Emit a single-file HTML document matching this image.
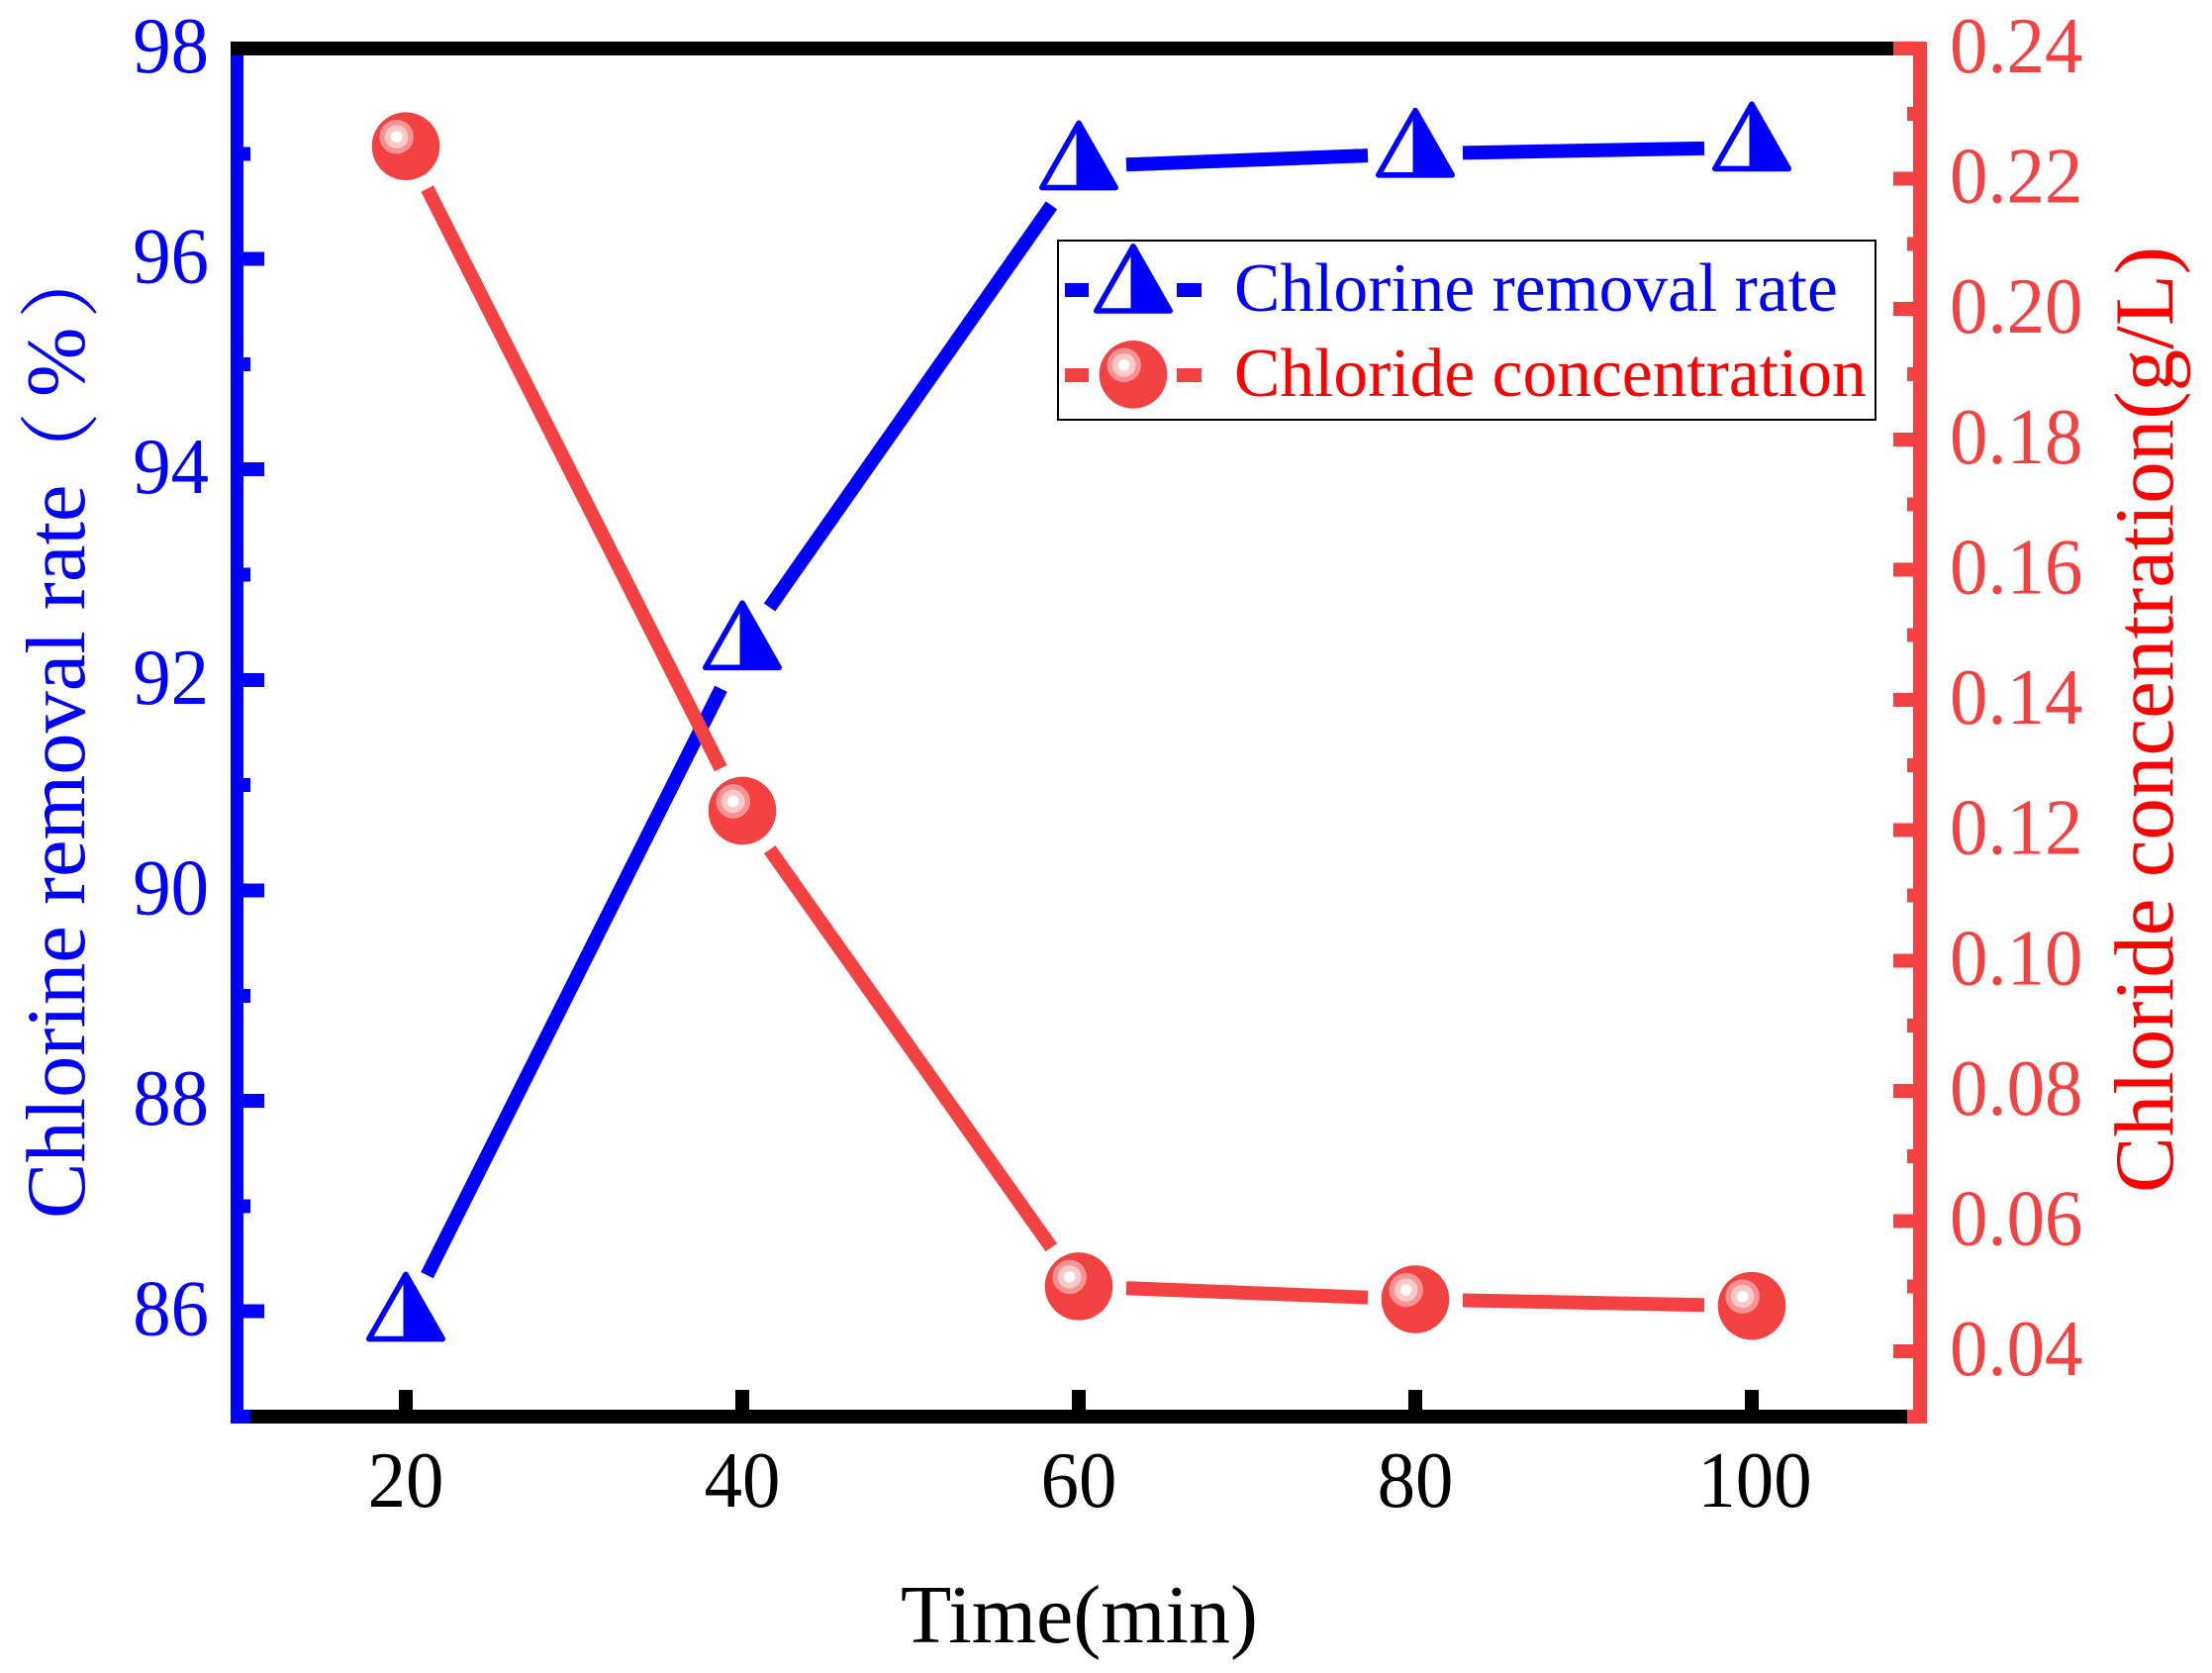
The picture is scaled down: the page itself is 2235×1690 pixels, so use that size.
<!DOCTYPE html>
<html lang="en">
<head>
<meta charset="utf-8">
<title>Chlorine removal rate and chloride concentration vs time</title>
<style>
html,body{margin:0;padding:0;background:#fff;width:2235px;height:1690px;overflow:hidden}
svg{display:block}
text{font-family:"Liberation Serif","Noto Serif CJK SC",serif}
</style>
</head>
<body>
<svg id="chart" xmlns="http://www.w3.org/2000/svg" width="2235" height="1690" viewBox="0 0 2235 1690"></svg>
<script>
const timeMin = [20, 40, 60, 80, 100];
const removalRate = [85.94, 92.32, 96.88, 97.0, 97.06];
const chlorideConc = [0.2250, 0.1230, 0.0500, 0.0480, 0.0470];
const xTickValues = [20, 40, 60, 80, 100];
const xTickLabels = ['20', '40', '60', '80', '100'];
const leftTickValues = [86, 88, 90, 92, 94, 96, 98];
const leftTickLabels = ['86', '88', '90', '92', '94', '96', '98'];
const leftMinorValues = [85, 87, 89, 91, 93, 95, 97];
const rightTickValues = [0.04, 0.06, 0.08, 0.10, 0.12, 0.14, 0.16, 0.18, 0.20, 0.22, 0.24];
const rightTickLabels = ['0.04', '0.06', '0.08', '0.10', '0.12', '0.14', '0.16', '0.18', '0.20', '0.22', '0.24'];
const rightMinorValues = [0.03, 0.05, 0.07, 0.09, 0.11, 0.13, 0.15, 0.17, 0.19, 0.21, 0.23];
const xDomain = [10, 110];
const leftDomain = [85, 98];
const rightDomain = [0.03, 0.24];

const BLUE = '#0000FF';
const RED = '#F44242';
const PURE_RED = '#FF0000';
const LABEL_SQUEEZE = 0.96;
const PLOT = {left: 240, right: 1940, top: 49, bottom: 1431};
const NS = 'http://www.w3.org/2000/svg';
const svg = document.getElementById('chart');

function xScale(v) { return PLOT.left + (v - xDomain[0]) / (xDomain[1] - xDomain[0]) * (PLOT.right - PLOT.left); }
function yLeft(v) { return PLOT.bottom - (v - leftDomain[0]) / (leftDomain[1] - leftDomain[0]) * (PLOT.bottom - PLOT.top); }
function yRight(v) { return PLOT.bottom - (v - rightDomain[0]) / (rightDomain[1] - rightDomain[0]) * (PLOT.bottom - PLOT.top); }

function make(tag, attrs, parent) {
  const n = document.createElementNS(NS, tag);
  for (const k in attrs) n.setAttribute(k, attrs[k]);
  (parent || svg).appendChild(n);
  return n;
}
function box(x1, y1, x2, y2, fill, parent) {
  return make('rect', {x: x1, y: y1, width: x2 - x1, height: y2 - y1, fill: fill, 'shape-rendering': 'crispEdges'}, parent);
}
function tickText(x, y, anchor, fill, parent) {
  return make('text', {transform: 'translate(' + x + ',' + y + ') scale(' + LABEL_SQUEEZE + ',1)', 'font-size': 80, fill: fill, 'text-anchor': anchor}, parent);
}
function triangleMarker(g, cx, cy) {
  make('polygon', {points: [cx, cy - 43.7, cx - 37.2, cy + 21.5, cx + 37.2, cy + 21.5].join(' '), fill: '#fff', stroke: BLUE, 'stroke-width': 5.6, 'stroke-linejoin': 'round'}, g);
  make('polygon', {points: [cx - 2.5, cy - 43.7, cx, cy - 43.7, cx + 37.2, cy + 21.5, cx - 2.5, cy + 21.5].join(' '), fill: BLUE}, g);
}
function sphereMarker(g, cx, cy) {
  make('circle', {cx: cx, cy: cy, r: 34.3, fill: RED}, g);
  make('circle', {cx: cx - 9.3, cy: cy - 9.5, r: 17.3, fill: '#F99393'}, g);
  make('circle', {cx: cx - 9.3, cy: cy - 9.5, r: 11.8, fill: '#FCC9C9'}, g);
  make('circle', {cx: cx - 9.3, cy: cy - 9.5, r: 5.8, fill: '#FFFDFD'}, g);
}
function gappedSegments(g, xs, ys, color, gap) {
  for (let i = 0; i < xs.length - 1; i++) {
    const x1 = xScale(xs[i]), y1 = ys[i], x2 = xScale(xs[i + 1]), y2 = ys[i + 1];
    const d = Math.hypot(x2 - x1, y2 - y1);
    const ux = (x2 - x1) / d, uy = (y2 - y1) / d;
    const seg = make('line', {x1: x1 + ux * gap, y1: y1 + uy * gap, x2: x2 - ux * gap, y2: y2 - uy * gap, stroke: color, 'stroke-width': 14}, g);
    
    
  }
}

/* bottom axis */
const xAxis = make('g', {});


box(233, 1424, 1934, 1438, '#000', xAxis);
xTickValues.forEach(function (v, i) {
  const tx = xScale(v);
  const tick = box(tx - 7, 1404, tx + 7, 1424, '#000', xAxis);
  
  
  const lab = tickText(tx + (xTickLabels[i].length > 2 ? 3 : 0), 1522, 'middle', '#000', xAxis);
  lab.textContent = xTickLabels[i];
  
  
});

/* left axis */
const leftAxis = make('g', {});


box(233, 42, 246, 1438, BLUE, leftAxis);
leftMinorValues.forEach(function (v) {
  const ty = yLeft(v);
  const tick = box(240, ty - 7, 253, ty + 7, BLUE, leftAxis);
  
  
});
leftTickValues.forEach(function (v, i) {
  const ty = yLeft(v);
  const tick = box(240, ty - 7, 267, ty + 7, BLUE, leftAxis);
  
  
  const lab = tickText(211, ty + 24, 'end', BLUE, leftAxis);
  lab.textContent = leftTickLabels[i];
  
  
});

/* top axis */
const topAxis = box(233, 42, 1913, 56, '#000');



/* right axis */
const rightAxis = make('g', {});


box(1933, 42, 1947, 1438, RED, rightAxis);
rightMinorValues.forEach(function (v) {
  const ty = yRight(v);
  const tick = box(1927, ty - 7, 1940, ty + 7, RED, rightAxis);
  
  
});
rightTickValues.forEach(function (v, i) {
  const ty = yRight(v);
  const tick = box(1913, ty - 7, 1940, ty + 7, RED, rightAxis);
  
  
  const lab = tickText(1970, ty + 24, 'start', RED, rightAxis);
  lab.textContent = rightTickLabels[i];
  
  
});

/* series */
const blueYs = removalRate.map(yLeft);
const redYs = chlorideConc.map(yRight);
const blueSeries = make('g', {});


gappedSegments(blueSeries, timeMin, blueYs, BLUE, 48);
timeMin.forEach(function (t, i) {
  const m = make('g', {}, blueSeries);
  
  
  triangleMarker(m, xScale(t), blueYs[i]);
});
const redSeries = make('g', {});


gappedSegments(redSeries, timeMin, redYs, RED, 48);
timeMin.forEach(function (t, i) {
  const m = make('g', {}, redSeries);
  
  
  sphereMarker(m, xScale(t), redYs[i]);
});

/* legend */
const legend = make('g', {});


const legendBox = make('rect', {x: 1069, y: 243, width: 826, height: 181, fill: '#fff', stroke: '#000', 'stroke-width': 2, 'shape-rendering': 'crispEdges'}, legend);



const legendBlue = make('g', {}, legend);


box(1076, 286, 1100, 300, BLUE, legendBlue);
box(1189, 286, 1214, 300, BLUE, legendBlue);
triangleMarker(legendBlue, 1145, 292.5);
const legendBlueText = make('text', {x: 1247, y: 314, 'font-size': 69.5, fill: BLUE}, legendBlue);
legendBlueText.textContent = 'Chlorine removal rate';



const legendRed = make('g', {}, legend);


box(1076, 372, 1100, 386, RED, legendRed);
box(1189, 372, 1214, 386, RED, legendRed);
sphereMarker(legendRed, 1145, 378.3);
const legendRedText = make('text', {x: 1247, y: 400, 'font-size': 69.5, fill: PURE_RED}, legendRed);
legendRedText.textContent = 'Chloride concentration';



/* axis titles */
const xTitle = make('text', {x: 910, y: 1659, 'font-size': 84, fill: '#000'});
xTitle.textContent = 'Time(min)';



const leftTitle = make('text', {transform: 'translate(85,1231) rotate(-90)', 'font-size': 84.5, fill: BLUE});


const ltMain = make('tspan', {x: 0}, leftTitle);
ltMain.textContent = 'Chlorine removal rate';
const ltOpen = make('tspan', {x: 733, y: 5, 'font-size': 82}, leftTitle);
ltOpen.textContent = '（';
const ltPct = make('tspan', {x: 830, y: 0}, leftTitle);
ltPct.textContent = '%';
const ltClose = make('tspan', {x: 909, y: 5, 'font-size': 82}, leftTitle);
ltClose.textContent = '）';

const rightTitle = make('text', {transform: 'translate(2195,1205) rotate(-90)', 'font-size': 85, fill: PURE_RED});
rightTitle.textContent = 'Chloride concentration(g/L)';


</script>
</body>
</html>
